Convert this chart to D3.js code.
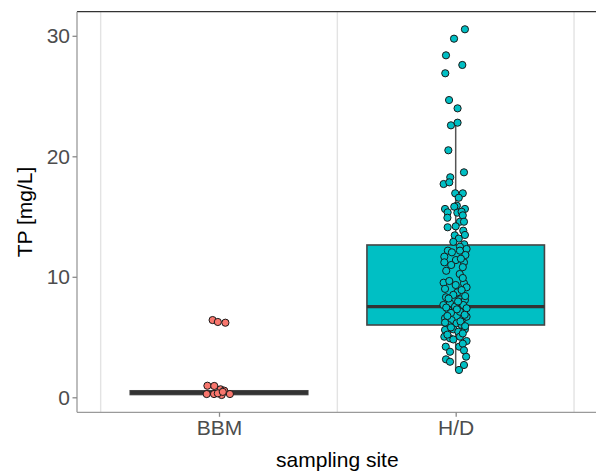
<!DOCTYPE html>
<html>
<head>
<meta charset="utf-8">
<script src="https://cdn.jsdelivr.net/npm/d3@7"></script>
<style>
  html, body { margin: 0; padding: 0; background: #fff; }
  svg { display: block; font-family: "Liberation Sans", Arial, Helvetica, sans-serif; }
</style>
</head>
<body>
<svg id="chart" width="596" height="473"></svg>
<script>
// Sampling sites on the x axis
const sites = ["BBM", "H/D"];
const siteColors = ["#F8766D", "#00BFC4"];

// Box-plot summaries per site (mg/L)
const whiskerLow  = [0.19, 2.27];
const boxLower    = [0.23, 6.00];
const boxMedian   = [0.38, 7.52];
const boxUpper    = [0.54, 12.64];
const whiskerHigh = [0.96, 22.70];

// Individual TP measurements, BBM (value, horizontal jitter in category units)
const bbmValues = [6.41, 6.25, 6.19, 0.96, 0.94, 0.66, 0.55, 0.27, 0.27, 0.19, 0.27, 0.33, 0.45];
const bbmJitter = [-0.027, -0.005, 0.027, -0.049, -0.020, 0.007, 0.022, -0.052, -0.021, 0.011, 0.046, -0.005, 0.016];

// Individual TP measurements, H/D
const hdValues = [
  30.54, 29.76, 28.38, 27.58, 26.89, 24.67, 23.98, 22.57, 22.79, 20.50,
  18.67, 18.26, 17.70, 17.84, 16.93, 16.93, 16.56, 15.63, 15.35, 15.63,
  15.90, 15.82, 15.32, 15.40, 14.90, 15.10, 14.57, 14.57, 14.11, 14.19,
  13.83, 13.44, 13.47, 13.17, 12.70, 12.50, 12.17, 12.17, 12.31, 12.03,
  11.67, 11.81, 11.39, 11.20, 10.98, 11.20, 10.23, 9.51, 9.65, 9.32,
  9.46, 9.13, 8.71, 8.30, 8.13, 8.07, 7.80, 7.66, 7.52, 7.66,
  7.39, 7.24, 7.10, 6.56, 6.41, 6.56, 6.69, 6.14, 6.00, 6.00,
  5.64, 5.59, 5.64, 5.44, 5.03, 4.90, 5.03, 4.67, 4.20, 4.20,
  3.78, 3.37, 3.15, 2.95, 2.68, 2.27,
  12.90, 11.50, 10.80, 10.50, 9.90, 9.00, 8.90, 8.50, 8.40, 8.20,
  7.95, 7.45, 7.30, 7.00, 6.85, 6.75, 6.30, 6.20, 5.90, 5.80,
  5.30, 5.20, 4.80, 4.45, 3.90
];
const hdJitter = [
  0.039, -0.007, -0.041, 0.028, -0.044, -0.028, 0.008, -0.020, 0.008, -0.031,
  0.035, -0.023, -0.051, -0.027, -0.002, 0.030, 0.013, -0.045, -0.034, 0.039,
  0.005, -0.006, 0.007, 0.025, -0.035, 0.030, 0.018, 0.035, -0.034, 0.000,
  0.032, -0.004, 0.039, 0.013, 0.036, 0.018, -0.033, 0.018, 0.046, -0.016,
  -0.048, 0.041, 0.001, -0.048, -0.019, 0.035, 0.017, -0.051, -0.027, 0.000,
  0.035, 0.046, 0.007, -0.041, 0.018, 0.039, -0.024, -0.052, -0.003, 0.032,
  0.046, -0.031, 0.018, -0.045, -0.017, 0.032, 0.046, 0.004, -0.031, 0.025,
  -0.010, -0.045, 0.039, 0.011, -0.048, -0.024, 0.018, 0.046, 0.015, -0.042,
  -0.024, 0.044, -0.041, -0.024, 0.035, 0.014,
  -0.010, 0.022, 0.030, -0.040, 0.030, -0.045, 0.025, -0.010, 0.040, -0.030,
  0.010, -0.040, 0.005, -0.020, 0.038, -0.035, 0.020, -0.045, 0.040, -0.020,
  0.030, -0.035, -0.010, 0.030, 0.035
];

const yTicks = [0, 10, 20, 30];
const xTitle = "sampling site";
const yTitle = "TP [mg/L]";

// ---- layout ----
const W = 596, H = 473;
const panel = { left: 77, top: 11.7, right: 597.7, bottom: 412.3 };

const svg = d3.select("#chart");

// continuous position for discrete sites (1, 2) with ggplot-style padding
const x = d3.scaleLinear().domain([0.4, 2.6]).range([panel.left, panel.right]);
const y = d3.scaleLinear().domain([-1.245, 32.0]).range([panel.bottom, panel.top]);

// vertical separators between sites
const g = svg.append("g");
g.selectAll("line.sep")
  .data([0.5, 1.5, 2.5])
  .join("line")
  .attr("class", "sep")
  .attr("x1", d => x(d)).attr("x2", d => x(d))
  .attr("y1", panel.top).attr("y2", panel.bottom)
  .attr("stroke", "#e3e3e3").attr("stroke-width", 1.4);

// top rule
g.append("line")
  .attr("x1", panel.left).attr("x2", W)
  .attr("y1", panel.top).attr("y2", panel.top)
  .attr("stroke", "#333").attr("stroke-width", 1.2);

// boxes
const boxW = 0.75;
const boxes = sites.map((s, i) => ({
  i, pos: i + 1, color: siteColors[i],
  lo: whiskerLow[i], q1: boxLower[i], med: boxMedian[i], q3: boxUpper[i], hi: whiskerHigh[i]
}));

const bg = g.selectAll("g.box").data(boxes).join("g").attr("class", "box");
bg.append("line")
  .attr("x1", d => x(d.pos)).attr("x2", d => x(d.pos))
  .attr("y1", d => y(d.q3)).attr("y2", d => y(d.hi))
  .attr("stroke", "#555").attr("stroke-width", 1.5);
bg.append("line")
  .attr("x1", d => x(d.pos)).attr("x2", d => x(d.pos))
  .attr("y1", d => y(d.q1)).attr("y2", d => y(d.lo))
  .attr("stroke", "#555").attr("stroke-width", 1.5);
bg.append("rect")
  .attr("x", d => x(d.pos - boxW / 2))
  .attr("width", d => x(d.pos + boxW / 2) - x(d.pos - boxW / 2))
  .attr("y", d => y(d.q3))
  .attr("height", d => y(d.q1) - y(d.q3))
  .attr("fill", d => d.color)
  .attr("stroke", "#454545").attr("stroke-width", 1.6);
bg.append("line")
  .attr("x1", d => x(d.pos - boxW / 2)).attr("x2", d => x(d.pos + boxW / 2))
  .attr("y1", d => y(d.med)).attr("y2", d => y(d.med))
  .attr("stroke", "#333").attr("stroke-width", 3.2);

// jittered points
const pts = [];
bbmValues.forEach((v, k) => pts.push({ pos: 1 + bbmJitter[k], v, c: siteColors[0] }));
hdValues.forEach((v, k) => pts.push({ pos: 2 + hdJitter[k], v, c: siteColors[1] }));
g.selectAll("circle.pt").data(pts).join("circle")
  .attr("class", "pt")
  .attr("cx", d => x(d.pos)).attr("cy", d => y(d.v))
  .attr("r", 3.6)
  .attr("fill", d => d.c)
  .attr("stroke", "#1a1a1a").attr("stroke-width", 1);

// axes
const yAxis = d3.axisLeft(y).tickValues(yTicks).tickSize(4.5).tickPadding(2.5).tickFormat(d3.format("d"));
const ya = svg.append("g").attr("transform", `translate(${panel.left},0)`).call(yAxis);
ya.select(".domain").attr("d", `M0,${panel.top}V${panel.bottom}`);

const xAxis = d3.axisBottom(x).tickValues([1, 2]).tickSize(4.5).tickPadding(3).tickFormat(d => sites[d - 1]);
const xa = svg.append("g").attr("transform", `translate(0,${panel.bottom})`).call(xAxis);
xa.select(".domain").attr("d", `M${panel.left},0H${panel.right}`);

[ya, xa].forEach(a => {
  a.select(".domain").attr("stroke", "#9a9a9a").attr("stroke-width", 1.3);
  a.selectAll(".tick line").attr("stroke", "#8a8a8a").attr("stroke-width", 1.3);
  a.selectAll(".tick text").attr("fill", "#4d4d4d").style("font-size", "21px");
});

// titles
svg.append("text")
  .attr("x", (panel.left + panel.right) / 2).attr("y", 467)
  .attr("text-anchor", "middle").attr("fill", "#000")
  .style("font-size", "21px").text(xTitle);

svg.append("text")
  .attr("transform", `translate(32,${(panel.top + panel.bottom) / 2}) rotate(-90)`)
  .attr("text-anchor", "middle").attr("fill", "#000")
  .style("font-size", "21px").text(yTitle);
</script>
</body>
</html>
